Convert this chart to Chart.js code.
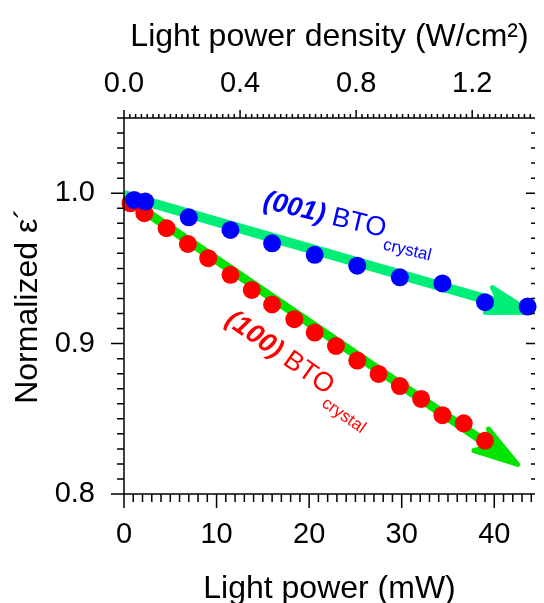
<!DOCTYPE html>
<html>
<head>
<meta charset="utf-8">
<script src="https://cdn.jsdelivr.net/npm/chart.js@4/dist/chart.umd.min.js"></script>
<style>
  body { margin: 0; background: #fff; }
  #wrap { width: 544px; height: 603px; }
</style>
</head>
<body>
<div id="wrap"><canvas id="myChart" width="544" height="603"></canvas></div>
<script>
'use strict';

// DANE

// (100) BTO - czerwone
const power100 = [0.7, 2.2, 4.6, 6.9, 9.1, 11.5, 13.8, 16.0, 18.4, 20.6, 22.9, 25.2, 27.5, 29.8, 32.1, 34.4, 36.7, 39.0];
const eps100 = [0.9933, 0.9867, 0.9767, 0.9663, 0.9568, 0.9457, 0.9357, 0.926, 0.9162, 0.9073, 0.8984, 0.8887, 0.8798, 0.8718, 0.8632, 0.8524, 0.847, 0.8354];

// (001) BTO - niebieskie
const power001 = [1.1, 2.3, 7.0, 11.5, 16.0, 20.6, 25.2, 29.8, 34.4, 39.0, 43.6];
const eps001 = [0.9955, 0.9944, 0.984, 0.9756, 0.9667, 0.959, 0.9518, 0.9441, 0.940, 0.9275, 0.9246];

// osie
const powerTicks = [0, 10, 20, 30, 40];
const densityTicks = [0.0, 0.4, 0.8, 1.2];
const epsTicks = [0.8, 0.9, 1.0];
const powerMax = 44.4;
const densityPerMw = 0.0319;
const epsMin = 0.8, epsMax = 1.05;

// strzalki (w jednostkach danych)
const arrow001 = [[0, 0.9988], [44.3, 0.9203]];
const arrow100 = [[0, 0.9975], [42.8, 0.8185]];

const FONT = "'Liberation Sans', Arial, sans-serif";

function toPoints(xs, ys) {
  return xs.map(function(x, i) { return {x: x, y: ys[i]}; });
}

// rysowanie strzalki
function drawArrow(ctx, chart, pts, color, width) {
  const xs = chart.scales.x, ys = chart.scales.y;
  const x0 = xs.getPixelForValue(pts[0][0]), y0 = ys.getPixelForValue(pts[0][1]);
  const x1 = xs.getPixelForValue(pts[1][0]), y1 = ys.getPixelForValue(pts[1][1]);
  const len = Math.hypot(x1 - x0, y1 - y0);
  const ux = (x1 - x0) / len, uy = (y1 - y0) / len;
  const nx = -uy, ny = ux;
  const head = 44, half = 13, notch = 32, tipIn = 3;
  const tx = x1 - ux * tipIn, ty = y1 - uy * tipIn;
  ctx.save();
  ctx.strokeStyle = color;
  ctx.fillStyle = color;
  ctx.lineWidth = width;
  ctx.lineCap = 'butt';
  ctx.beginPath();
  ctx.moveTo(x0, y0);
  ctx.lineTo(tx - ux * notch, ty - uy * notch);
  ctx.stroke();
  ctx.lineJoin = 'round';
  ctx.lineWidth = 5;
  ctx.beginPath();
  ctx.moveTo(tx, ty);
  ctx.lineTo(tx - ux * head + nx * half, ty - uy * head + ny * half);
  ctx.lineTo(tx - ux * notch, ty - uy * notch);
  ctx.lineTo(tx - ux * head - nx * half, ty - uy * head - ny * half);
  ctx.closePath();
  ctx.fill();
  ctx.stroke();
  ctx.restore();
}

// podpis z indeksem dolnym
function drawLabel(ctx, chart, at, angle, color, parts) {
  const px = chart.scales.x.getPixelForValue(at[0]);
  const py = chart.scales.y.getPixelForValue(at[1]);
  ctx.save();
  ctx.translate(px, py);
  ctx.rotate(angle * Math.PI / 180);
  ctx.fillStyle = color;
  ctx.textBaseline = 'alphabetic';
  ctx.textAlign = 'left';
  let x = 0;
  parts.forEach(function(p) {
    ctx.font = p.font;
    ctx.fillText(p.text, x + (p.dx || 0), p.dy || 0);
    x += ctx.measureText(p.text).width + (p.dx || 0);
  });
  ctx.restore();
}

const label001 = [
  {text: '(001)', font: 'italic bold 27px ' + FONT},
  {text: ' BTO', font: '27px ' + FONT},
  {text: 'crystal', font: '17px ' + FONT, dx: 1, dy: 12}
];
const label100 = [
  {text: '(100)', font: 'italic bold 27px ' + FONT},
  {text: ' BTO', font: '27px ' + FONT},
  {text: 'crystal', font: '17px ' + FONT, dx: 1, dy: 12}
];

const decorations = {
  id: 'decorations',
  beforeDatasetsDraw(chart) {
    drawArrow(chart.ctx, chart, arrow100, '#00E400', 9);
    drawArrow(chart.ctx, chart, arrow001, '#00EE78', 10);
  },
  afterDatasetsDraw(chart) {
    drawLabel(chart.ctx, chart, [14.9, 0.9902], 13.5, '#0000FF', label001);
    drawLabel(chart.ctx, chart, [10.8, 0.9137], 35, '#FF0000', label100);
  },
  afterDraw(chart) {
    const ctx = chart.ctx, a = chart.chartArea;
    const sx = chart.scales.x, st = chart.scales.x2, sy = chart.scales.y;
    ctx.save();
    ctx.strokeStyle = '#000';
    ctx.lineWidth = 1.5;
    ctx.beginPath();
    ctx.moveTo(a.left, a.top); ctx.lineTo(a.right, a.top);
    ctx.moveTo(a.left, a.top); ctx.lineTo(a.left, a.bottom);
    ctx.moveTo(a.left, a.bottom); ctx.lineTo(a.right, a.bottom);
    // dolna os - co 1 mW
    for (let i = 0; i <= Math.floor(powerMax); i++) {
      const x = sx.getPixelForValue(i);
      const l = i % 10 === 0 ? 14 : 8;
      ctx.moveTo(x, a.bottom); ctx.lineTo(x, a.bottom + l);
    }
    // gorna os - co 0.02
    for (let i = 0; i * 0.02 <= st.max + 1e-9; i++) {
      const x = st.getPixelForValue(i * 0.02);
      const l = i % 20 === 0 ? 8 : 4;
      ctx.moveTo(x, a.top); ctx.lineTo(x, a.top - l);
    }
    // lewa i prawa - co 0.01
    for (let i = 0; i <= 25; i++) {
      const y = sy.getPixelForValue(epsMin + i * 0.01);
      const major = i % 10 === 0;
      ctx.moveTo(a.left, y); ctx.lineTo(a.left - (major ? 13 : 7), y);
      ctx.moveTo(a.right, y); ctx.lineTo(a.right - (major ? 9 : 4), y);
    }
    ctx.stroke();
    ctx.restore();
  }
};

const tickFont = { family: FONT, size: 29, lineHeight: 1 };
const titleFont = { family: FONT, size: 32, lineHeight: 0.8 };

const ctx = document.getElementById('myChart').getContext('2d');

const chart = new Chart(ctx, {
  type: 'scatter',
  data: {
    datasets: [{
      label: '(001) BTO',
      data: toPoints(power001, eps001),
      backgroundColor: '#0000FF',
      pointRadius: 9,
      pointHoverRadius: 9,
      borderWidth: 0,
      clip: false
    },
    {
      label: '(100) BTO',
      data: toPoints(power100, eps100),
      backgroundColor: '#FF0000',
      pointRadius: 9,
      pointHoverRadius: 9,
      borderWidth: 0,
      clip: false
    }]
  },
  options: {
    responsive: false,
    animation: false,
    events: [],
    layout: { padding: 0 },
    plugins: {
      legend: { display: false },
      tooltip: { enabled: false }
    },
    scales: {
      x: {
        type: 'linear',
        position: 'bottom',
        min: 0,
        max: powerMax,
        afterBuildTicks: function(s) { s.ticks = powerTicks.map(function(v) { return {value: v}; }); },
        afterFit: function(s) { s.height = 109; },
        ticks: { color: '#000', font: tickFont, padding: 18, maxRotation: 0, autoSkip: false },
        grid: { display: false },
        border: { display: false },
        title: { display: true, text: 'Light power (mW)', color: '#000', font: titleFont, padding: { top: 0, bottom: 1 } }
      },
      x2: {
        type: 'linear',
        position: 'top',
        display: true,
        min: 0,
        max: powerMax * densityPerMw,
        afterBuildTicks: function(s) { s.ticks = densityTicks.map(function(v) { return {value: v}; }); },
        afterFit: function(s) { s.height = 118; },
        ticks: { color: '#000', font: tickFont, padding: 12, maxRotation: 0, autoSkip: false,
          callback: function(v) { return v.toFixed(1); } },
        grid: { display: false },
        border: { display: false },
        title: { display: true, text: 'Light power density (W/cm²)', color: '#000', font: titleFont, padding: { top: 24, bottom: 0 } }
      },
      y: {
        type: 'linear',
        position: 'left',
        min: epsMin,
        max: epsMax,
        afterBuildTicks: function(s) { s.ticks = epsTicks.map(function(v) { return {value: v}; }); },
        afterFit: function(s) { s.width = 124; },
        ticks: { color: '#000', font: tickFont, padding: 21,
          callback: function(v) { return v.toFixed(1); } },
        grid: { display: false },
        border: { display: false },
        title: { display: true, text: 'Normalized ε´', color: '#000', font: titleFont, padding: { top: 15, bottom: 0 } }
      }
    }
  },
  plugins: [decorations]
});
</script>
</body>
</html>
